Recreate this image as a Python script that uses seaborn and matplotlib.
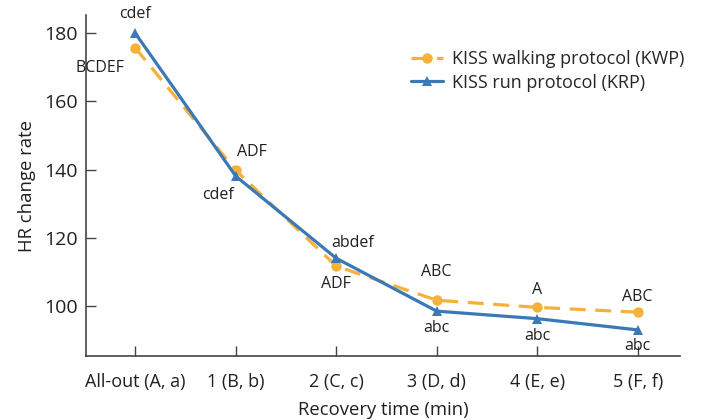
import pandas as pd
import matplotlib.pyplot as plt
import seaborn as sns

times = ["All-out (A, a)", "1 (B, b)", "2 (C, c)", "3 (D, d)", "4 (E, e)", "5 (F, f)"]
kwp = [175.7, 139.8, 111.7, 101.7, 99.6, 98.2]
krp = [180.0, 138.1, 114.0, 98.5, 96.3, 93.0]
kwp_sig = ["BCDEF", "ADF", "ADF", "ABC", "A", "ABC"]
krp_sig = ["cdef", "cdef", "abdef", "abc", "abc", "abc"]

# label offsets in pixels (dx, dy)
kwp_off = [(-35, -20), (16, 18), (0, -18), (0, 28), (0, 17), (0, 15)]
krp_off = [(0, 19), (-18, -19), (16, 15), (0, -17), (0, -17), (0, -16)]

orange = "#F5B13A"
blue = "#3B78B6"
txt = "#231f20"

sns.set_theme(style="ticks")
plt.rcParams['font.family'] = ['Open Sans', 'DejaVu Sans']

df = pd.DataFrame({"time": times * 2,
                   "hr": kwp + krp,
                   "group": ["KWP"] * 6 + ["KRP"] * 6})

fig = plt.figure(figsize=(7.02, 4.2), dpi=100)
ax = fig.add_axes([0.1225, 0.152, 0.846, 0.812])

sns.lineplot(data=df[df.group == "KWP"], x="time", y="hr", color=orange,
             marker="o", markersize=7.5, markeredgewidth=0, linewidth=2.3,
             ax=ax, label="KISS walking protocol (KWP)", sort=False)
ax.lines[-1].set_linestyle((0, (5, 3)))
sns.lineplot(data=df[df.group == "KRP"], x="time", y="hr", color=blue,
             marker="^", markersize=7.5, markeredgewidth=0, linewidth=2.3,
             ax=ax, label="KISS run protocol (KRP)", sort=False)

for i in range(len(times)):
    ax.annotate(kwp_sig[i], (i, kwp[i]), xytext=kwp_off[i], textcoords="offset pixels",
                ha="center", va="center", fontsize=11.5, color=txt)
    ax.annotate(krp_sig[i], (i, krp[i]), xytext=krp_off[i], textcoords="offset pixels",
                ha="center", va="center", fontsize=11.5, color=txt)

ax.set_xlim(-0.49, 5.42)
ax.set_ylim(85.3, 185.3)
ax.set_yticks([100, 120, 140, 160, 180])
ax.set_xticks(range(len(times)))
ax.set_xticklabels(times)
ax.tick_params(direction="in", length=7, width=1, colors="#444444", labelcolor=txt)
ax.tick_params(axis="x", labelsize=13, pad=12)
ax.tick_params(axis="y", labelsize=14, pad=6)
for s in ["top", "right"]:
    ax.spines[s].set_visible(False)
for s in ["left", "bottom"]:
    ax.spines[s].set_color("#444444")
    ax.spines[s].set_linewidth(1.2)

ax.set_xlabel("Recovery time (min)", fontsize=13.3, color=txt, labelpad=7)
ax.set_ylabel("HR change rate", fontsize=13.3, color=txt, labelpad=6)

leg = ax.legend(loc="upper right", bbox_to_anchor=(1.035, 0.945), frameon=False, fontsize=13,
                handlelength=1.8, handletextpad=0.5, labelspacing=0.3)

fig.savefig("out.png", dpi=100)
